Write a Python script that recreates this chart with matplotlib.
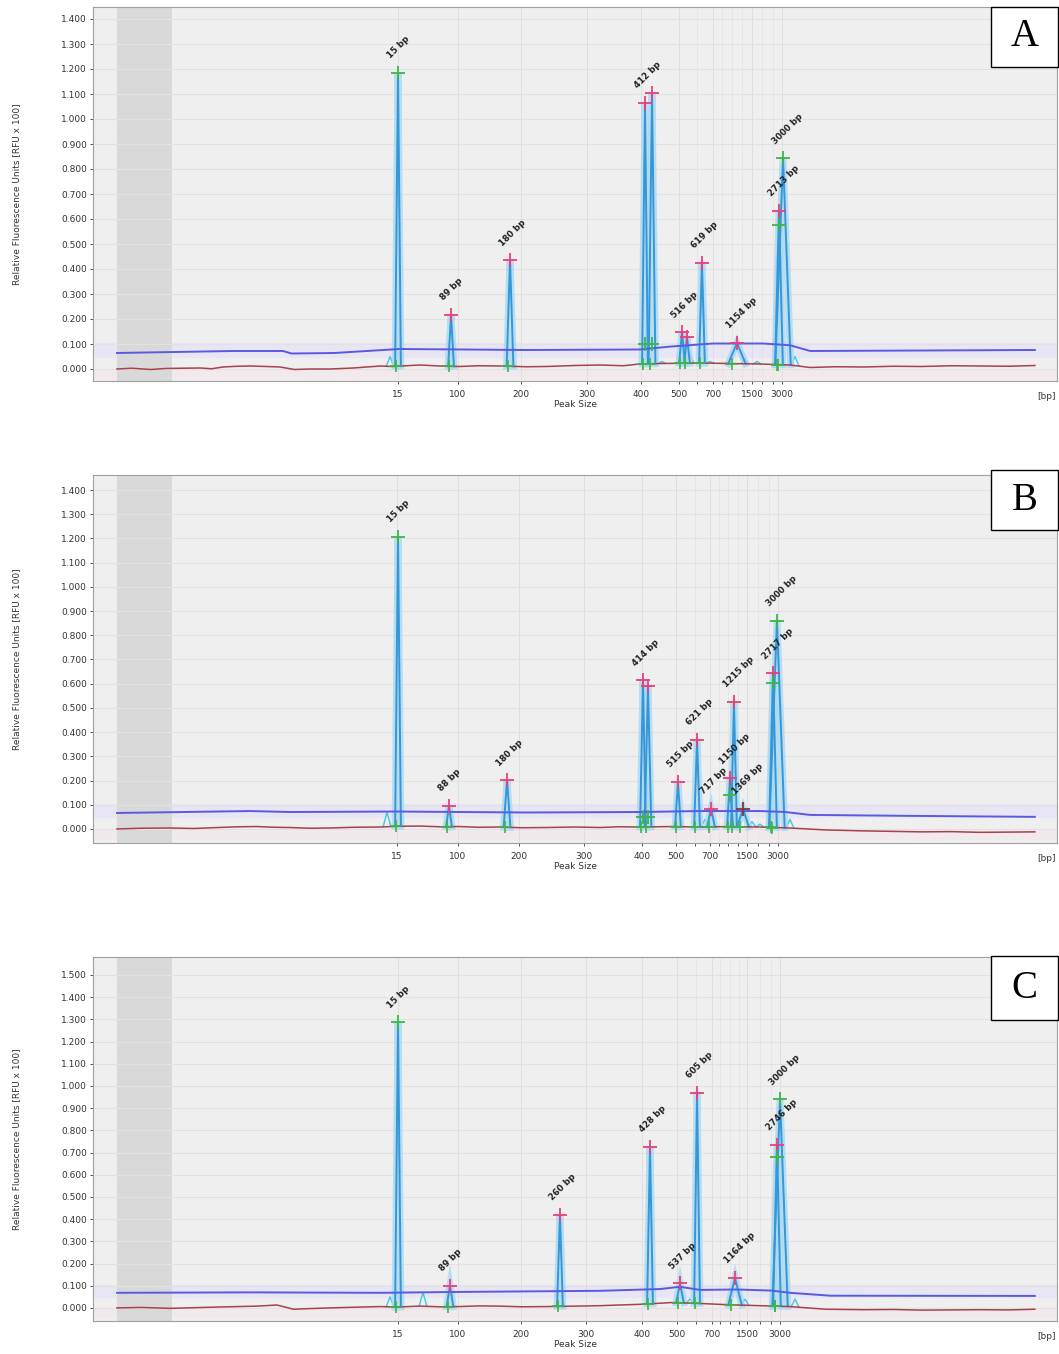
import numpy as np
import matplotlib.pyplot as plt
from matplotlib.patches import Rectangle

OUT_FILE = 'out.png'
DPI = 100

# x axis is migration time (0-100 % of the run); bp ladder marks are placed on it
TICK_LABELS = ['15', '100', '200', '300', '400', '500', '700', '1500', '3000']
BAND = (2.49, 8.2)

# ---------------- panel A ----------------
A_TICKS = [31.64, 37.86, 44.40, 51.24, 56.85, 60.79, 64.32, 68.36, 71.47]
A_MINOR = [62.7, 65.2, 66.3, 67.3, 69.4, 70.5]
A_PEAK_X = [31.64, 37.14, 43.26, 57.26, 57.99, 61.10, 61.62, 63.17, 66.80, 71.16, 71.58]
A_PEAK_Y = [1.184, 0.216, 0.436, 1.064, 1.104, 0.148, 0.128, 0.424, 0.104, 0.632, 0.844]
A_PEAK_W = [0.3, 0.3, 0.35, 0.3, 0.35, 0.3, 0.3, 0.3, 0.9, 0.4, 0.8]
A_PEAK_LABEL = ['15 bp', '89 bp', '180 bp', '412 bp', '', '516 bp', '', '619 bp',
                '1154 bp', '2713 bp', '3000 bp']
A_PEAK_MARK = ['g', 'p', 'p', 'p', 'p', 'p', 'p', 'p', 'p', 'p', 'g']
A_GREEN_X = [57.26, 57.99, 71.16]
A_GREEN_Y = [0.100, 0.100, 0.576]
A_BUMP_X = [30.81, 59.02, 61.93, 64.00, 67.63, 68.88, 72.82]
A_BUMP_Y = [0.05, 0.03, 0.06, 0.03, 0.04, 0.03, 0.05]
A_BASE_X = [2.49, 4.0, 6.0, 7.5, 9.0, 11.1, 12.3, 13.5, 15.0, 16.3, 18.0, 19.4, 20.9,
            22.5, 24.6, 27.0, 29.8, 31.0, 33.9, 36.0, 38.0, 40.0, 42.2, 45.0, 47.0,
            50.0, 52.6, 55.0, 56.7, 59.0, 63.0, 66.0, 69.2, 72.3, 74.4, 77.0, 80.0,
            83.0, 86.0, 89.0, 92.0, 95.0, 97.7]
A_BASE_Y = [0.000, 0.003, -0.002, 0.002, 0.003, 0.004, 0.001, 0.008, 0.011, 0.012, 0.010,
            0.008, -0.002, 0.000, 0.000, 0.004, 0.012, 0.010, 0.016, 0.012, 0.010, 0.013,
            0.012, 0.009, 0.010, 0.014, 0.016, 0.013, 0.020, 0.022, 0.024, 0.022, 0.020,
            0.016, 0.006, 0.009, 0.008, 0.011, 0.010, 0.013, 0.012, 0.011, 0.014]
A_TOP_X = [2.49, 14.5, 19.7, 20.6, 25.0, 31.8, 45.0, 56.7, 60.0, 64.3, 69.5, 72.3, 74.4, 97.7]
A_TOP_Y = [0.064, 0.072, 0.072, 0.062, 0.064, 0.080, 0.076, 0.078, 0.090, 0.102, 0.102,
           0.095, 0.072, 0.076]

# ---------------- panel B ----------------
B_TICKS = [31.54, 37.86, 44.19, 50.93, 56.95, 60.48, 64.00, 67.84, 71.06]
B_MINOR = [62.4, 64.9, 65.9, 66.9, 69.0, 70.1]
B_PEAK_X = [31.64, 36.93, 42.95, 57.05, 57.57, 60.68, 62.66, 64.11, 66.08, 66.49, 67.43,
            70.54, 70.95]
B_PEAK_Y = [1.206, 0.095, 0.202, 0.615, 0.590, 0.194, 0.368, 0.083, 0.210, 0.525, 0.083,
            0.644, 0.860]
B_PEAK_W = [0.3, 0.3, 0.35, 0.3, 0.35, 0.3, 0.3, 0.4, 0.3, 0.3, 0.6, 0.4, 0.8]
B_PEAK_LABEL = ['15 bp', '88 bp', '180 bp', '414 bp', '', '515 bp', '621 bp', '717 bp',
                '1150 bp', '1215 bp', '1369 bp', '2717 bp', '3000 bp']
B_PEAK_MARK = ['g', 'p', 'p', 'p', 'p', 'p', 'p', 'p', 'p', 'p', 'd', 'p', 'g']
B_GREEN_X = [57.05, 57.57, 66.08, 70.54]
B_GREEN_Y = [0.050, 0.050, 0.140, 0.603]
B_BUMP_X = [30.50, 63.49, 68.36, 69.19, 72.30]
B_BUMP_Y = [0.07, 0.04, 0.03, 0.02, 0.04]
B_BASE_X = [2.49, 5.0, 8.0, 10.5, 13.0, 15.0, 17.0, 18.8, 20.4, 22.5, 24.6, 27.0, 29.8,
            31.5, 33.9, 36.0, 38.0, 40.0, 42.2, 44.5, 47.0, 50.0, 52.6, 54.5, 56.7, 60.0,
            63.0, 66.0, 69.2, 72.3, 76.0, 80.0, 83.0, 86.0, 89.0, 92.0, 95.0, 97.7]
B_BASE_Y = [0.000, 0.003, 0.004, 0.002, 0.006, 0.009, 0.010, 0.007, 0.006, 0.003, 0.004,
            0.007, 0.008, 0.011, 0.012, 0.009, 0.010, 0.007, 0.008, 0.005, 0.006, 0.008,
            0.006, 0.009, 0.008, 0.010, 0.008, 0.010, 0.008, 0.004, -0.004, -0.008,
            -0.010, -0.012, -0.011, -0.014, -0.013, -0.012]
B_TOP_X = [2.49, 16.3, 20.4, 31.5, 45.0, 56.7, 63.0, 69.2, 71.8, 74.4, 85.0, 97.7]
B_TOP_Y = [0.066, 0.074, 0.070, 0.072, 0.068, 0.070, 0.074, 0.074, 0.070, 0.058, 0.054,
           0.050]

# ---------------- panel C ----------------
C_TICKS = [31.64, 37.86, 44.40, 51.14, 56.95, 60.58, 64.21, 67.84, 71.27]
C_MINOR = [62.6, 65.0, 66.1, 67.0, 69.2, 70.3]
C_PEAK_X = [31.64, 37.03, 48.44, 57.78, 60.89, 62.66, 66.60, 70.95, 71.27]
C_PEAK_Y = [1.288, 0.100, 0.420, 0.725, 0.110, 0.970, 0.135, 0.735, 0.940]
C_PEAK_W = [0.3, 0.35, 0.3, 0.3, 0.4, 0.3, 0.7, 0.4, 0.8]
C_PEAK_LABEL = ['15 bp', '89 bp', '260 bp', '428 bp', '537 bp', '605 bp', '1164 bp',
                '2746 bp', '3000 bp']
C_PEAK_MARK = ['g', 'p', 'p', 'p', 'p', 'p', 'p', 'p', 'g']
C_GREEN_X = [70.95]
C_GREEN_Y = [0.680]
C_BUMP_X = [30.81, 34.23, 61.93, 67.63, 72.82]
C_BUMP_Y = [0.05, 0.07, 0.04, 0.04, 0.04]
C_BASE_X = [2.49, 5.0, 8.0, 10.5, 13.0, 15.0, 17.0, 19.1, 20.8, 22.5, 24.6, 27.0, 29.8,
            31.5, 33.9, 36.0, 38.0, 40.0, 42.2, 44.5, 47.0, 50.0, 52.6, 54.5, 56.7, 60.0,
            63.0, 66.0, 69.2, 72.3, 76.0, 80.0, 83.0, 86.0, 89.0, 92.0, 95.0, 97.7]
C_BASE_Y = [0.000, 0.002, -0.002, 0.001, 0.004, 0.006, 0.008, 0.013, -0.006, -0.003,
            0.000, 0.003, 0.006, 0.004, 0.008, 0.005, 0.006, 0.009, 0.008, 0.005, 0.006,
            0.008, 0.010, 0.013, 0.016, 0.024, 0.020, 0.014, 0.010, 0.006, -0.006,
            -0.008, -0.007, -0.010, -0.009, -0.008, -0.009, -0.006]
C_TOP_X = [2.49, 16.3, 29.8, 38.0, 52.6, 58.8, 60.9, 63.0, 66.8, 70.4, 72.3, 76.5, 97.7]
C_TOP_Y = [0.068, 0.070, 0.068, 0.072, 0.077, 0.085, 0.095, 0.081, 0.083, 0.078, 0.068,
           0.055, 0.054]

MARK_COLORS = {'p': '#e8407a', 'g': '#3db54a', 'd': '#7a3a3a'}
TRACE_COLOR = '#3596d8'
HALO_COLOR = '#a9d9f3'
BUMP_COLOR = '#3ec8e6'


def draw_panel(ax, ticks, minor, ylim, ymax_tick, base_x, base_y, top_x, top_y,
               peak_x, peak_y, peak_w, labels, marks, green_x, green_y, bump_x, bump_y):
    ax.set_facecolor('#efefef')
    ax.set_xlim(0, 100)
    ax.set_ylim(*ylim)
    ax.axhspan(0.045, 0.105, color='#e8e6f5', zorder=0.3, lw=0)
    ax.axhspan(-0.045, -0.005, color='#f2e9ec', zorder=0.3, lw=0)
    ax.axvspan(BAND[0], BAND[1], color='#d9d9d9', zorder=0.5, lw=0)

    ax.set_xticks(ticks)
    ax.set_xticklabels(TICK_LABELS)
    ax.set_xticks(minor, minor=True)
    yt = np.arange(0, ymax_tick + 0.001, 0.1)
    ax.set_yticks(yt)
    ax.set_yticklabels(['%.3f' % v for v in yt])
    ax.grid(True, axis='x', which='major', color='#dddddd', lw=0.6)
    ax.grid(True, axis='x', which='minor', color='#e3e3e3', lw=0.5)
    ax.grid(True, axis='y', color='#e2e2e2', lw=0.8)
    ax.set_axisbelow(True)

    ax.tick_params(axis='both', which='both', labelsize=6.5, colors='#333333',
                   length=2.5, width=0.6, pad=2)
    ax.tick_params(axis='x', which='major', pad=4)
    ax.tick_params(axis='x', which='minor', length=2)
    for s in ax.spines.values():
        s.set_color('#a0a0a0')
        s.set_linewidth(0.8)

    ax.set_xlabel('Peak Size', fontsize=6.5, color='#333333', labelpad=1)
    ax.set_ylabel('Relative Fluorescence Units [RFU x 100]', fontsize=6.5, color='#333333')
    ax.yaxis.set_label_coords(-0.075, 0.5)
    ax.text(98.9, -0.03, '[bp]', transform=ax.get_xaxis_transform(), ha='center',
            va='top', fontsize=6.5, color='#333333')

    # small features of the sample trace near the baseline
    for x, h in zip(bump_x, bump_y):
        b = np.interp(x, base_x, base_y)
        ax.plot([x - 0.4, x, x + 0.4], [b, h, b], color=BUMP_COLOR, lw=1.0, zorder=2)

    # sample peaks
    for x, h, w in zip(peak_x, peak_y, peak_w):
        b = np.interp(x, base_x, base_y)
        px = [x - w, x, x + w]
        py = [b, h, b]
        ax.plot(px, py, color=HALO_COLOR, lw=5, alpha=0.8, zorder=2,
                solid_joinstyle='miter')
        ax.plot(px, py, color=TRACE_COLOR, lw=1.4, zorder=3)

    # threshold and baseline
    ax.plot(top_x, top_y, color='#5a5ae0', lw=1.4, zorder=4)
    ax.plot(base_x, base_y, color='#a8404f', lw=1.1, zorder=4)

    # peak markers and labels
    for x, h, w, lab, m in zip(peak_x, peak_y, peak_w, labels, marks):
        b = np.interp(x, base_x, base_y)
        ax.plot(x, h, marker='+', ms=10, mew=1.3, color=MARK_COLORS[m], zorder=5)
        ax.plot(x - w * 0.6, b, marker='+', ms=9, mew=1.2, color=MARK_COLORS['g'],
                zorder=5)
        if lab:
            ax.annotate(lab, xy=(x, h), xytext=(-4, 9), textcoords='offset points',
                        rotation=45, rotation_mode='anchor', ha='left', va='bottom',
                        fontsize=6.2, fontweight='bold', color='#222222', zorder=6)
    ax.plot(green_x, green_y, ls='none', marker='+', ms=10, mew=1.3,
            color=MARK_COLORS['g'], zorder=5)


def letter_box(fig, bottom, height, letter):
    left = 991 / 1059
    width = 67 / 1059
    fig.patches.append(Rectangle((left, bottom), width, height, transform=fig.transFigure,
                                 facecolor='white', edgecolor='black', lw=1.0, zorder=10))
    fig.text(left + width / 2, bottom + height / 2, letter, ha='center', va='center',
             fontsize=28, family='Liberation Serif', zorder=11)


def main():
    fig = plt.figure(figsize=(10.59, 13.54), dpi=DPI)
    left = 93 / 1059
    width = 964 / 1059

    ax_a = fig.add_axes([left, 1 - 381 / 1354, width, 374 / 1354])
    draw_panel(ax_a, A_TICKS, A_MINOR, (-0.048, 1.448), 1.4, A_BASE_X, A_BASE_Y,
               A_TOP_X, A_TOP_Y, A_PEAK_X, A_PEAK_Y, A_PEAK_W, A_PEAK_LABEL, A_PEAK_MARK,
               A_GREEN_X, A_GREEN_Y, A_BUMP_X, A_BUMP_Y)

    ax_b = fig.add_axes([left, 1 - 843 / 1354, width, 368 / 1354])
    draw_panel(ax_b, B_TICKS, B_MINOR, (-0.058, 1.462), 1.4, B_BASE_X, B_BASE_Y,
               B_TOP_X, B_TOP_Y, B_PEAK_X, B_PEAK_Y, B_PEAK_W, B_PEAK_LABEL, B_PEAK_MARK,
               B_GREEN_X, B_GREEN_Y, B_BUMP_X, B_BUMP_Y)

    ax_c = fig.add_axes([left, 1 - 1321 / 1354, width, 364 / 1354])
    draw_panel(ax_c, C_TICKS, C_MINOR, (-0.059, 1.581), 1.5, C_BASE_X, C_BASE_Y,
               C_TOP_X, C_TOP_Y, C_PEAK_X, C_PEAK_Y, C_PEAK_W, C_PEAK_LABEL, C_PEAK_MARK,
               C_GREEN_X, C_GREEN_Y, C_BUMP_X, C_BUMP_Y)

    letter_box(fig, 1 - 67 / 1354, 60 / 1354, 'A')
    letter_box(fig, 1 - 530 / 1354, 60 / 1354, 'B')
    letter_box(fig, 1 - 1020 / 1354, 64 / 1354, 'C')

    fig.savefig(OUT_FILE, dpi=DPI)
    plt.close('all')


if __name__ == '__main__':
    main()
